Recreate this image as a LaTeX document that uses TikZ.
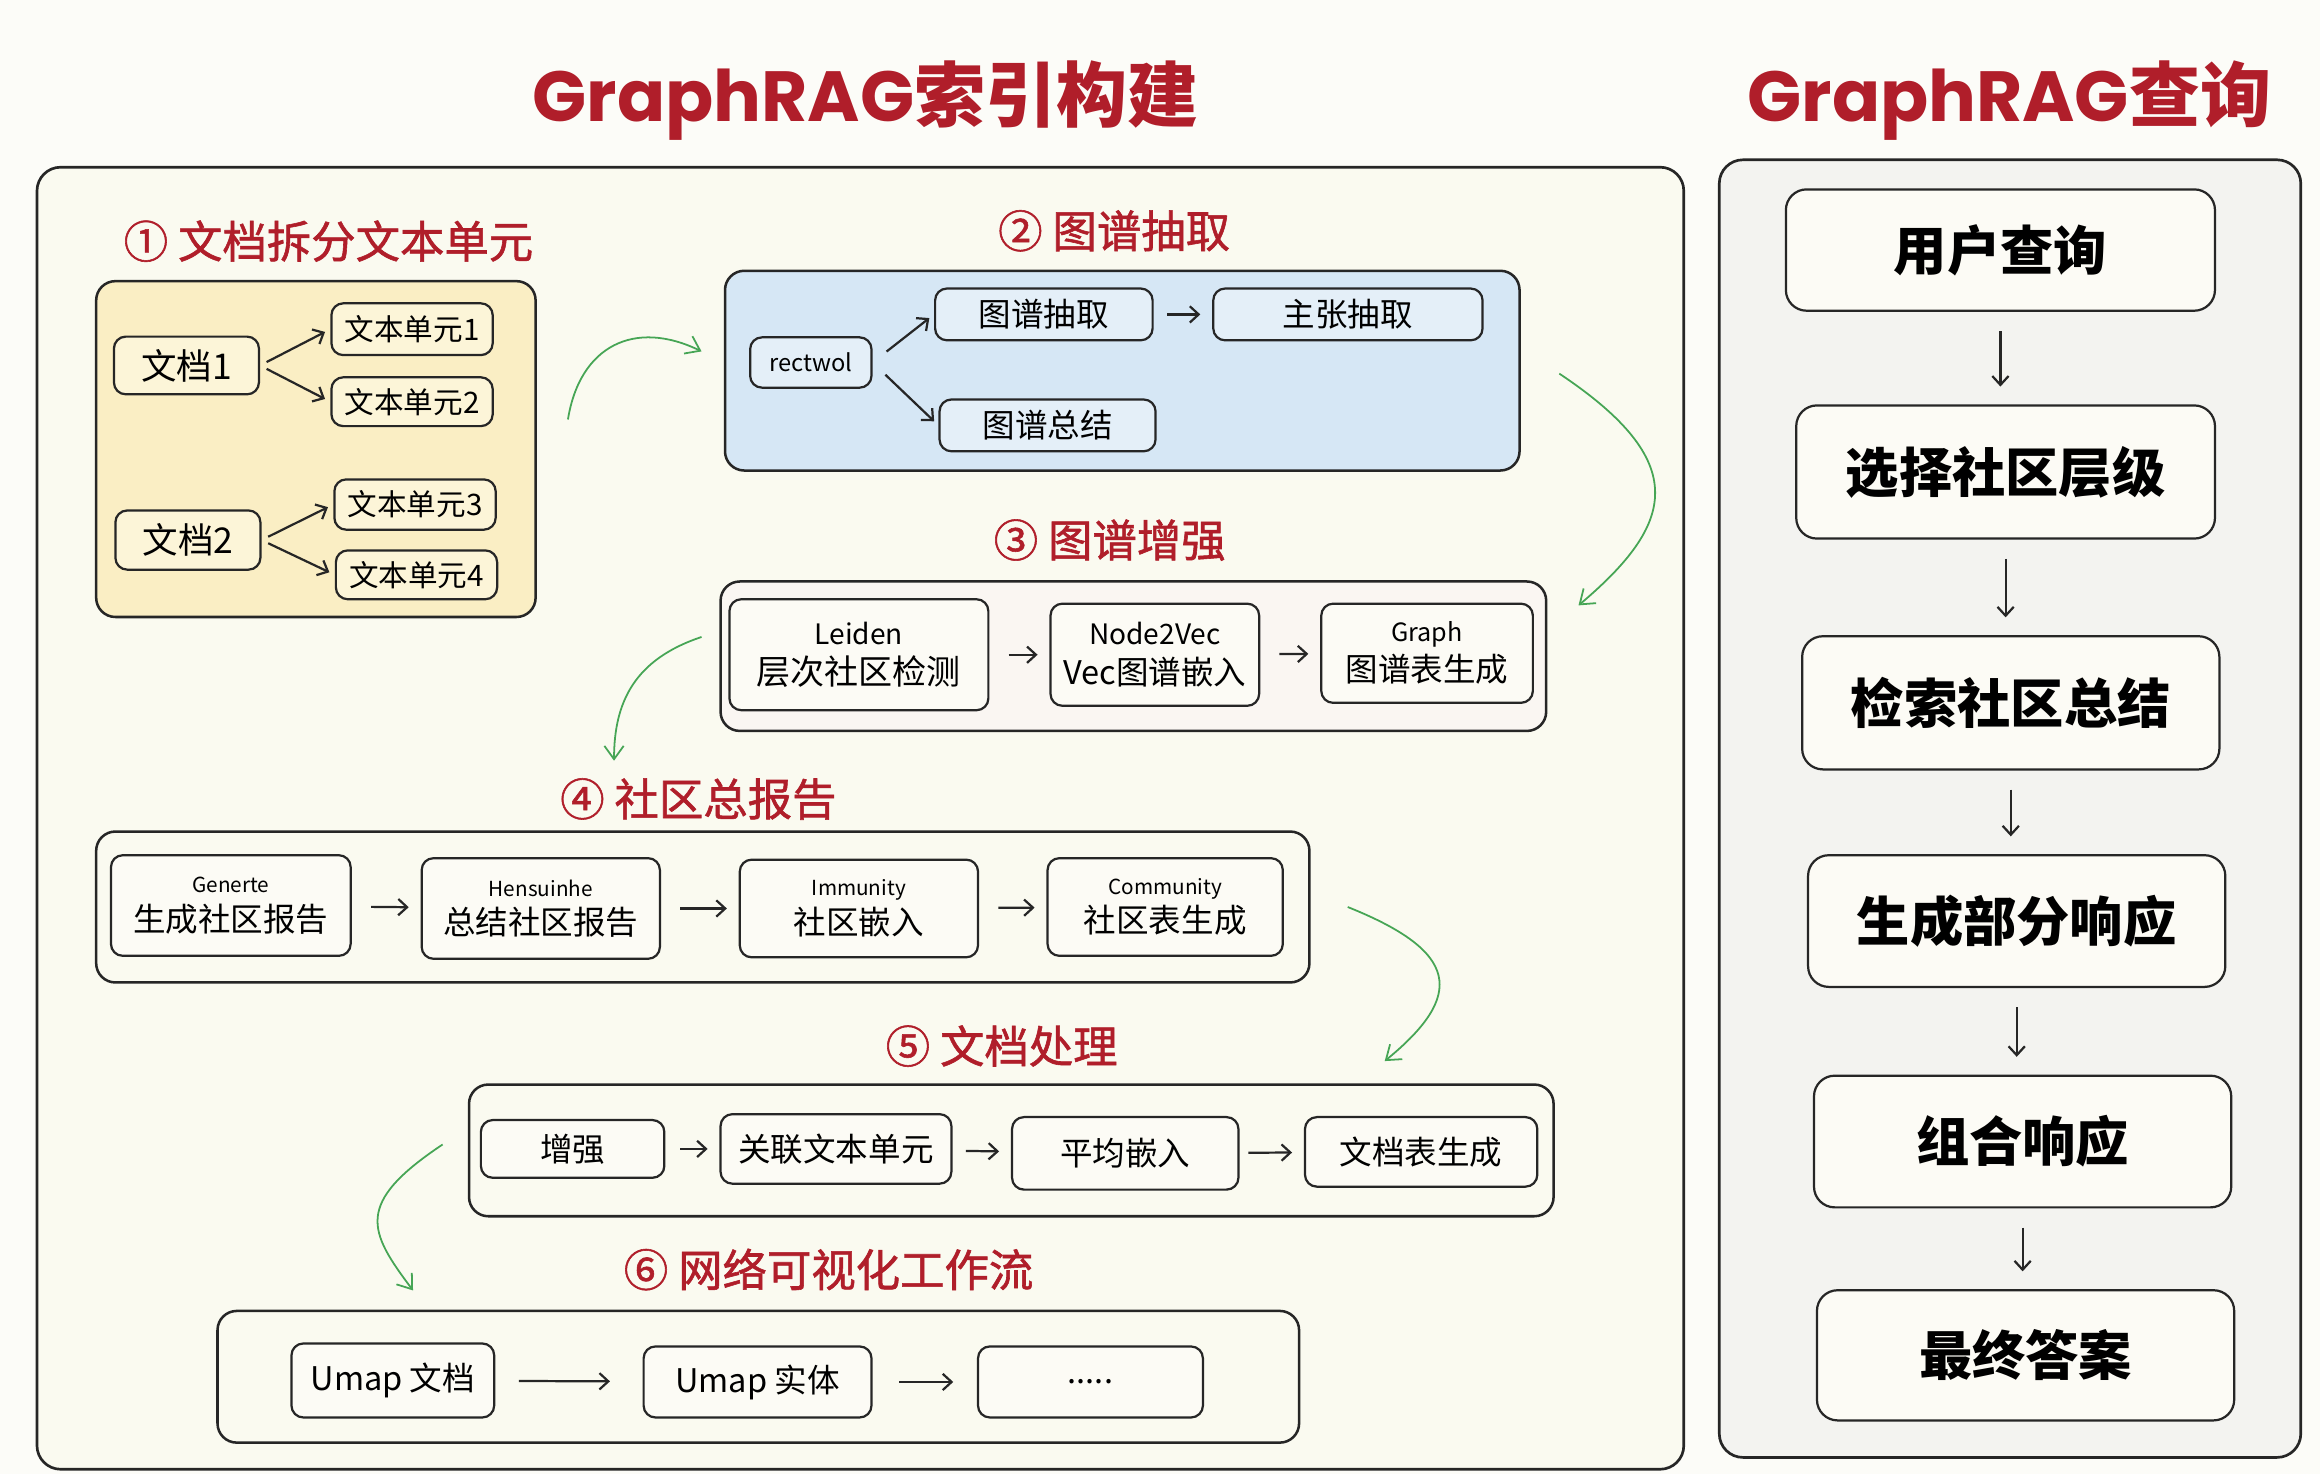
\documentclass[tikz,border=0pt]{standalone}
\usepackage{fontspec}
\setmainfont{Noto Sans CJK SC}
\newfontfamily\pop{Poppins}
\newfontfamily\demi{Noto Sans CJK SC}[FakeBold=1.3]
\usepackage{xcolor}
\usepackage{tikz}
\usetikzlibrary{shapes,arrows,arrows.meta}

\definecolor{ink}{RGB}{38,38,38}
\definecolor{titred}{RGB}{176,30,42}
\definecolor{grn}{RGB}{70,165,85}
\definecolor{fond}{RGB}{252,252,248}
\definecolor{panL}{RGB}{250,250,240}
\definecolor{panR}{RGB}{243,243,240}
\definecolor{jaune}{RGB}{250,238,196}
\definecolor{jauneb}{RGB}{252,245,216}
\definecolor{bleu}{RGB}{214,231,245}
\definecolor{bleub}{RGB}{228,239,248}
\definecolor{rose}{RGB}{250,246,242}
\definecolor{boite}{RGB}{252,251,245}
\newcommand{\petit}{\fontsize{14}{15}\selectfont}

\begin{document}
\begin{tikzpicture}[x=1pt,y=-1pt,
  panel/.style={draw=ink, line width=1.8pt, rounded corners=16pt},
  sect/.style={draw=ink, line width=1.7pt, rounded corners=13pt},
  box/.style={draw=ink, line width=1.5pt, rounded corners=8pt, fill=boite, inner sep=1pt, align=center},
  qbox/.style={draw=ink, line width=1.5pt, rounded corners=14pt, fill=boite,
    font=\fontsize{36}{40}\selectfont\bfseries},
  titre/.style={text=titred, font=\fontsize{48}{52}\selectfont\bfseries},
  stitre/.style={text=titred, font=\fontsize{30}{34}\selectfont\demi},
  arr/.style={draw=ink, line width=1.5pt, -{Straight Barb[length=6pt,width=11pt]},
    shorten <=5pt, shorten >=4pt},
  gap/.style={arr, shorten <=13pt, shorten >=8pt},
  garr/.style={draw=grn, line width=1.2pt, -{Straight Barb[length=9pt,width=13pt]}},
  lab/.style={font=\fontsize{16}{17}\selectfont}]

% Fond
\fill[fond] (0,0) rectangle (1568,996);
\useasboundingbox (0,0) rectangle (1568,996);

% Titres
\node[titre] (ttl) at (585,68) {{\pop\bfseries GraphRAG}索引构建};
\node[titre] (ttr) at (1358,68) {{\pop\bfseries GraphRAG}查询};

% Panneaux
\node[panel, fill=panL, minimum width=1113pt, minimum height=880pt] (left) at (581.5,553) {};
\node[panel, fill=panR, minimum width=393pt, minimum height=877pt] (right) at (1358.5,546.5) {};

% 1 - Decoupage
\node[stitre] (t1) at (222,163) {① 文档拆分文本单元};
\node[sect, fill=jaune, minimum width=297pt, minimum height=227pt] (s1) at (213.5,303.5) {};
\node[box, fill=jauneb, minimum width=98pt, minimum height=39pt, font=\fontsize{24}{26}\selectfont] (doc1) at (126,247) {文档1};
\node[box, fill=jauneb, minimum width=98pt, minimum height=40pt, font=\fontsize{24}{26}\selectfont] (doc2) at (127,365) {文档2};
\node[box, fill=jauneb, minimum width=109pt, minimum height=35pt, font=\fontsize{20}{22}\selectfont] (u1) at (278.5,222.5) {文本单元1};
\node[box, fill=jauneb, minimum width=109pt, minimum height=33pt, font=\fontsize{20}{22}\selectfont] (u2) at (278.5,271.5) {文本单元2};
\node[box, fill=jauneb, minimum width=109pt, minimum height=34pt, font=\fontsize{20}{22}\selectfont] (u3) at (280.5,341) {文本单元3};
\node[box, fill=jauneb, minimum width=109pt, minimum height=33pt, font=\fontsize{20}{22}\selectfont] (u4) at (281.5,388.5) {文本单元4};
\draw[arr] (doc1.east) -- (u1.west);
\draw[arr] (doc1.east) -- (u2.west);
\draw[arr] (doc2.east) -- (u3.west);
\draw[arr] (doc2.east) -- (u4.west);

% 2 - Extraction
\node[stitre] (t2) at (753,156) {② 图谱抽取};
\node[sect, fill=bleu, minimum width=537pt, minimum height=135pt] (s2) at (758.5,250.5) {};
\node[box, fill=bleub, minimum width=82pt, minimum height=34pt, lab] (rect) at (548,245) {rectwol};
\node[box, fill=bleub, minimum width=147pt, minimum height=35pt, font=\fontsize{22}{24}\selectfont] (ext) at (705.5,212.5) {图谱抽取};
\node[box, fill=bleub, minimum width=182pt, minimum height=35pt, font=\fontsize{22}{24}\selectfont] (claim) at (911,212.5) {主张抽取};
\node[box, fill=bleub, minimum width=146pt, minimum height=35pt, font=\fontsize{22}{24}\selectfont] (gsum) at (708,287.5) {图谱总结};
\draw[arr, shorten <=12pt] (rect.east) -- (ext.west);
\draw[arr, shorten <=12pt] (rect.east) -- (gsum.west);
\draw[gap, shorten <=9pt] (ext) -- (claim);

% 3 - Enrichissement
\node[stitre] (t3) at (750,365) {③ 图谱增强};
\node[sect, fill=rose, minimum width=558pt, minimum height=101pt] (s3) at (766,443.5) {};
\node[box, minimum width=175pt, minimum height=75pt, font=\fontsize{23}{27}\selectfont] (leiden) at (580.5,442.5) {{\fontsize{19}{21}\selectfont Leiden}\\层次社区检测};
\node[box, minimum width=141pt, minimum height=69pt, font=\fontsize{22}{27}\selectfont] (n2v) at (780.5,442.5) {{\fontsize{19}{21}\selectfont Node2Vec}\\Vec图谱嵌入};
\node[box, minimum width=143pt, minimum height=67pt, font=\fontsize{22}{27}\selectfont] (graph) at (964.5,441.5) {{\fontsize{17}{19}\selectfont Graph}\\图谱表生成};
\draw[gap] (leiden) -- (n2v);
\draw[gap] (n2v) -- (graph);

% 4 - Rapports
\node[stitre] (t4) at (472,540) {④ 社区总报告};
\node[sect, minimum width=820pt, minimum height=102pt] (s4) at (475,613) {};
\node[box, minimum width=162pt, minimum height=68pt, font=\fontsize{22}{26}\selectfont] (gen) at (156,612) {{\petit Generte}\\生成社区报告};
\node[box, minimum width=161pt, minimum height=68pt, font=\fontsize{22}{26}\selectfont] (rsum) at (365.5,614) {{\petit Hensuinhe}\\总结社区报告};
\node[box, minimum width=161pt, minimum height=66pt, font=\fontsize{22}{26}\selectfont] (emb) at (580.5,614) {{\petit Immunity}\\社区嵌入};
\node[box, minimum width=159pt, minimum height=66pt, font=\fontsize{22}{26}\selectfont] (comm) at (787.5,613) {{\petit Community}\\社区表生成};
\draw[gap] (gen) -- (rsum);
\draw[gap] (rsum) -- (emb);
\draw[gap] (emb) -- (comm);

% 5 - Documents
\node[stitre] (t5) at (677,707) {⑤ 文档处理};
\node[sect, minimum width=733pt, minimum height=89pt] (s5) at (683.5,777.5) {};
\node[box, minimum width=124pt, minimum height=39pt, font=\fontsize{22}{24}\selectfont] (enh) at (387,776.5) {增强};
\node[box, minimum width=156pt, minimum height=47pt, font=\fontsize{22}{24}\selectfont] (link) at (565,776.5) {关联文本单元};
\node[box, minimum width=153pt, minimum height=49pt, font=\fontsize{22}{24}\selectfont] (avg) at (760.5,779.5) {平均嵌入};
\node[box, minimum width=157pt, minimum height=47pt, font=\fontsize{22}{24}\selectfont] (dtab) at (960.5,778.5) {文档表生成};
\draw[gap, shorten <=10pt] (enh) -- (link);
\draw[gap, shorten <=9pt] (link) -- (avg);
\draw[gap, shorten <=6pt] (avg) -- (dtab);

% 6 - Visualisation
\node[stitre] (t6) at (560,858) {⑥ 网络可视化工作流};
\node[sect, minimum width=731pt, minimum height=89pt] (s6) at (512.5,930.5) {};
\node[box, minimum width=137pt, minimum height=50pt, font=\fontsize{22}{24}\selectfont] (umd) at (265.5,933) {Umap 文档};
\node[box, minimum width=154pt, minimum height=48pt, font=\fontsize{22}{24}\selectfont] (ume) at (512,934) {Umap 实体};
\node[box, minimum width=152pt, minimum height=48pt, font=\fontsize{22}{24}\selectfont] (dots) at (737,934) {.....};
\draw[arr, shorten <=16pt, shorten >=22pt] (umd) -- (ume);
\draw[arr, shorten <=18pt, shorten >=16pt] (ume) -- (dots);

% Fleches vertes
\draw[garr] ([xshift=21pt,yshift=20pt]s1.east) .. controls +(8,-50) and +(-45,-22) .. ([xshift=-15pt,yshift=13pt]s2.west);
\draw[garr] ([xshift=26pt,yshift=-2pt]s2.east) .. controls +(90,60) and +(65,-55) .. ([xshift=21pt,yshift=-17pt]s3.north east);
\draw[garr] ([xshift=-12pt,yshift=13pt]s3.west) .. controls +(-45,15) and +(0,-40) .. ([xshift=-60pt,yshift=47pt]s4.north);
\draw[garr] ([xshift=25pt]s4.east) .. controls +(75,30) and +(55,-45) .. ([xshift=-115pt,yshift=15pt]s5.north east);
\draw[garr] ([xshift=-17pt,yshift=4pt]s5.west) .. controls +(-60,40) and +(-30,-40) .. ([xshift=133pt,yshift=13pt]s6.north west);

% Requete
\node[qbox, minimum width=290pt, minimum height=82pt] (q1) at (1352,169) {用户查询};
\node[qbox, minimum width=283pt, minimum height=90pt] (q2) at (1355.5,319) {选择社区层级};
\node[qbox, minimum width=282pt, minimum height=90pt] (q3) at (1359,475) {检索社区总结};
\node[qbox, minimum width=282pt, minimum height=89pt] (q4) at (1363,622.5) {生成部分响应};
\node[qbox, minimum width=282pt, minimum height=89pt] (q5) at (1367,771.5) {组合响应};
\node[qbox, minimum width=282pt, minimum height=88pt] (q6) at (1369,916) {最终答案};
\foreach \a/\b in {q1/q2,q2/q3,q3/q4,q4/q5,q5/q6}
  \draw[arr, shorten <=13pt, shorten >=12pt] (\a.south) -- (\a.south |- \b.north);

\end{tikzpicture}
\end{document}
